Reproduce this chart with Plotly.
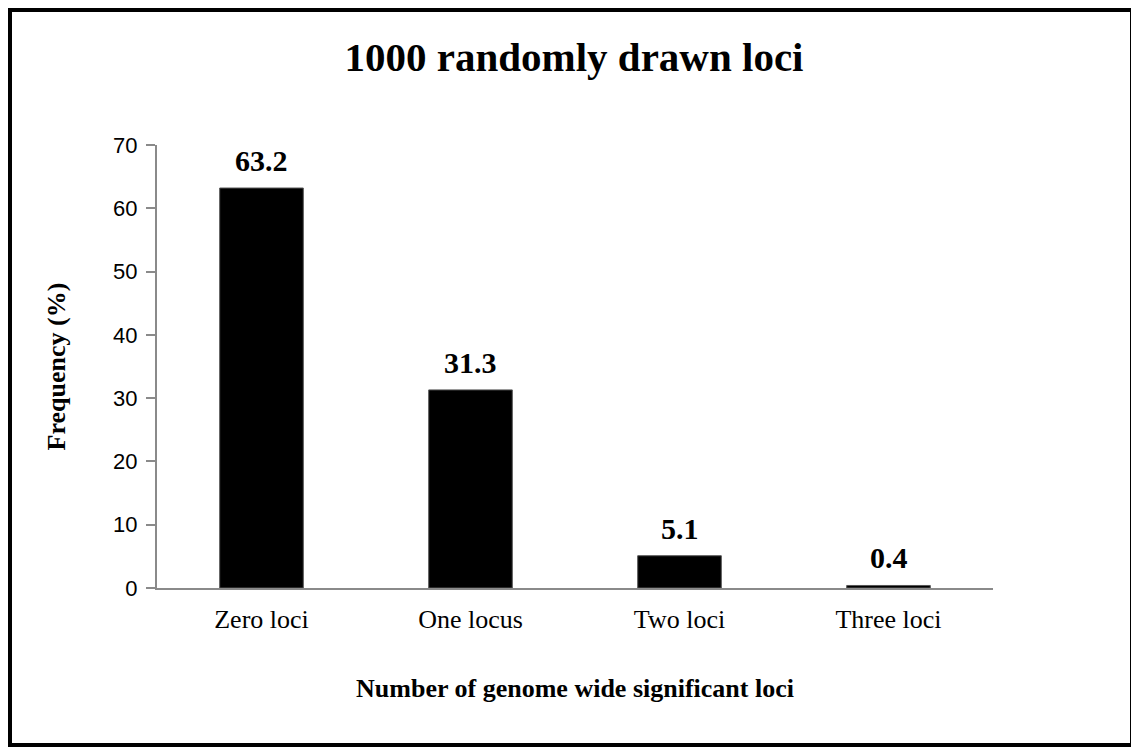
import plotly.graph_objects as go

categories = ["Zero loci", "One locus", "Two loci", "Three loci"]
frequency = [63.2, 31.3, 5.1, 0.4]
bar_labels = ["63.2", "31.3", "5.1", "0.4"]
y_ticks = [0, 10, 20, 30, 40, 50, 60, 70]

serif = "Liberation Serif, Times New Roman, serif"
sans = "Liberation Sans, Arial, sans-serif"

W, H = 1131, 745
L, R, T, B = 149, 146, 137, 165
pw, ph = W - L - R, H - T - B

fig = go.Figure()
fig.add_trace(go.Bar(
    x=categories, y=frequency,
    marker=dict(color="black", line=dict(color="#555555", width=1)),
    width=0.4, showlegend=False, hoverinfo="x+y",
))

for c, v, t in zip(categories, frequency, bar_labels):
    fig.add_annotation(x=c, y=v, text="<b>%s</b>" % t, showarrow=False,
                       yanchor="bottom", yshift=9,
                       font=dict(family=serif, size=30, color="black"))

fig.update_layout(
    width=W, height=H,
    margin=dict(l=L, r=R, t=T, b=B),
    paper_bgcolor="white", plot_bgcolor="white",
    title=dict(text="<b>1000 randomly drawn loci</b>", x=566 / W, xanchor="center",
               y=1 - 49 / H, yanchor="middle",
               font=dict(family=serif, size=41, color="black")),
    xaxis=dict(
        showline=True, linecolor="#8a8a8a", linewidth=2,
        ticks="", showgrid=False, zeroline=False,
        tickfont=dict(family=serif, size=26, color="black"),
        ticklabelstandoff=7,
        title=dict(text="<b>Number of genome wide significant loci</b>",
                   font=dict(family=serif, size=26, color="black"), standoff=46),
    ),
    yaxis=dict(
        range=[0, 70], tickvals=y_ticks,
        showline=True, linecolor="#8a8a8a", linewidth=2,
        ticks="outside", ticklen=9, tickcolor="#8a8a8a", tickwidth=2,
        showgrid=False, zeroline=False,
        tickfont=dict(family=sans, size=22, color="black"),
        ticklabelstandoff=4,
        title=dict(text="<b>Frequency (%)</b>",
                   font=dict(family=serif, size=26, color="black"), standoff=40),
    ),
    shapes=[dict(type="rect", xref="paper", yref="paper",
                 x0=(2 - L) / pw, x1=(1124 - L) / pw,
                 y0=(H - B - 737) / ph, y1=(H - B - 2) / ph,
                 line=dict(color="black", width=4), fillcolor="rgba(0,0,0,0)",
                 layer="below")],
)

fig.write_html("out.html")
